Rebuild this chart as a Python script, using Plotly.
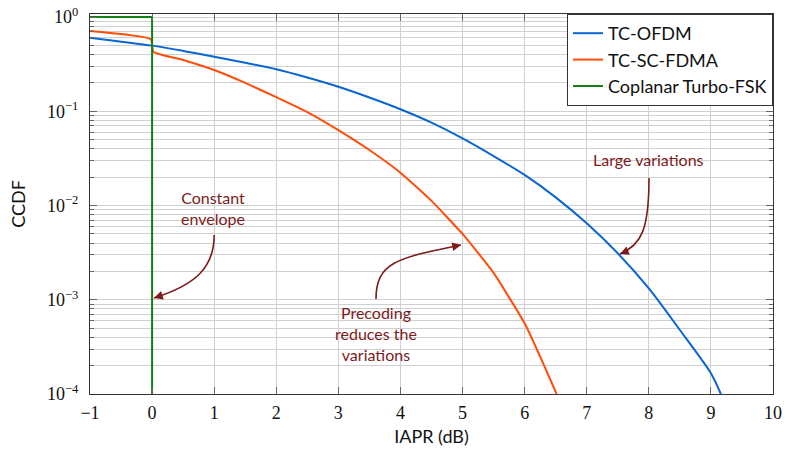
import plotly.graph_objects as go
import math

# ---------------- data ----------------
x_ofdm = [-1, 0, 0.5, 1, 1.5, 2, 2.5, 3, 3.5, 4, 4.5, 5, 5.5, 6, 6.5, 7, 7.5, 8, 8.5, 9, 9.16]
ccdf_ofdm = [0.604, 0.497, 0.437, 0.379, 0.327, 0.279, 0.228, 0.182, 0.140, 0.105, 0.0757, 0.0516,
             0.0335, 0.0211, 0.0122, 0.00647, 0.00311, 0.00132, 4.78e-4, 1.66e-4, 1.0e-4]

x_scfdma = [-1, -0.02, 0.02, 0.5, 1, 1.5, 2, 2.5, 3, 3.5, 4, 4.5, 5, 5.5, 6, 6.25, 6.515]
ccdf_scfdma = [0.711, 0.581, 0.428, 0.350, 0.274, 0.200, 0.141, 0.0982, 0.0632, 0.0388, 0.0223,
               0.0112, 0.00499, 0.00193, 5.62e-4, 2.49e-4, 1.0e-4]

x_fsk = [-1, 0, 0]
ccdf_fsk = [1.0, 1.0, 1.0e-4]

x_ticks = list(range(-1, 11))
y_tickvals = [1e-4, 1e-3, 1e-2, 1e-1, 1]
y_ticktext = ["10<sup>−4</sup>", "10<sup>−3</sup>", "10<sup>−2</sup>", "10<sup>−1</sup>", "10<sup>0</sup>"]
y_minor = [k * 10 ** e for e in range(-4, 0) for k in range(2, 10)]

# ---------------- layout constants ----------------
W, H = 787, 450
ML, MR, MT, MB = 90, 14, 14, 56
XR = [-1, 10]
YR = [-4, 0.032]
PW, PH = W - ML - MR, H - MT - MB
ANN = "#7d1a1a"

def paper(x, L):
    return (x - XR[0]) / (XR[1] - XR[0]), (L - YR[0]) / (YR[1] - YR[0])

def pix(x, L):
    px, py = paper(x, L)
    return ML + px * PW, MT + (1 - py) * PH

fig = go.Figure()
fig.add_trace(go.Scatter(x=x_ofdm, y=ccdf_ofdm, mode="lines", name="TC-OFDM",
                         line=dict(color="#0a66d0", width=2, shape="spline", smoothing=0.8),
                         legendgroup="a"))
fig.add_trace(go.Scatter(x=x_scfdma, y=ccdf_scfdma, mode="lines", name="TC-SC-FDMA",
                         line=dict(color="#ff4d0a", width=2, shape="spline", smoothing=0.45),
                         legendgroup="b"))
fig.add_trace(go.Scatter(x=x_fsk, y=ccdf_fsk, mode="lines", name="Coplanar Turbo-FSK",
                         line=dict(color="#128012", width=2), legendgroup="c"))

# annotation arrows: (start, c1, c2, tip) in (x, log10 y)
arrows = [
    [(1.0, -2.313), (1.0, -2.663), (0.691, -2.843), (0.031, -2.981)],
    [(3.606, -2.992), (3.606, -2.599), (3.960, -2.557), (4.975, -2.419)],
    [(8.003, -1.708), (8.003, -2.239), (7.890, -2.419), (7.536, -2.514)],
]
shapes = []
annotations = []
for pts in arrows:
    pp = [paper(*p) for p in pts]
    path = "M {},{} C {},{} {},{} {},{}".format(*[v for p in pp for v in p])
    shapes.append(dict(type="path", path=path, xref="paper", yref="paper",
                       line=dict(color=ANN, width=1.6)))
    c2 = pix(*pts[2]); tp = pix(*pts[3])
    dx, dy = tp[0] - c2[0], tp[1] - c2[1]
    n = math.hypot(dx, dy)
    annotations.append(dict(x=pts[3][0], y=pts[3][1], xref="x", yref="y", text="",
                            showarrow=True, arrowhead=2, arrowsize=1.1, arrowwidth=1.6,
                            arrowcolor=ANN, ax=-dx / n * 9, ay=-dy / n * 9, standoff=0))

texts = [
    (0.98, -2.026, "Constant<br>envelope"),
    (3.606, -3.363, "Precoding<br>reduces the<br>variations"),
    (8.0, -1.517, "Large variations"),
]
for x, L, t in texts:
    annotations.append(dict(x=x, y=L, xref="x", yref="y", text=t, showarrow=False,
                            font=dict(family="Lato", size=16, color=ANN), align="center"))

axis_common = dict(showline=True, linecolor="#333", linewidth=1.2, mirror="ticks",
                   ticks="inside", tickcolor="#666", showgrid=True, gridcolor="#d0d0d0",
                   gridwidth=1, zeroline=False, automargin=False, ticklabeloverflow="allow",
                   tickfont=dict(family="Liberation Serif", size=18, color="#111"))

fig.update_layout(
    width=W, height=H, margin=dict(l=ML, r=MR, t=MT, b=MB),
    plot_bgcolor="white", paper_bgcolor="white",
    xaxis=dict(range=XR, tickvals=x_ticks, ticklen=7, ticklabelstandoff=2,
               title=dict(text="IAPR (dB)", font=dict(family="Lato", size=18, color="#111"), standoff=8),
               **axis_common),
    yaxis=dict(type="log", range=YR, tickvals=y_tickvals, ticktext=y_ticktext, ticklen=7,
               ticklabelstandoff=7,
               minor=dict(tickvals=y_minor, showgrid=True, gridcolor="#d0d0d0", gridwidth=1,
                          ticks="inside", ticklen=4, tickcolor="#666"),
               title=dict(text="CCDF", font=dict(family="Lato", size=18, color="#111"), standoff=16),
               **axis_common),
    legend=dict(x=1, y=1, xanchor="right", yanchor="top", bgcolor="white",
                bordercolor="#333", borderwidth=1, tracegroupgap=0,
                font=dict(family="Lato", size=18, color="#111")),
    shapes=shapes, annotations=annotations,
)

fig.write_html("out.html", config={"displayModeBar": False},
               post_script="document.body.style.margin='0';")
